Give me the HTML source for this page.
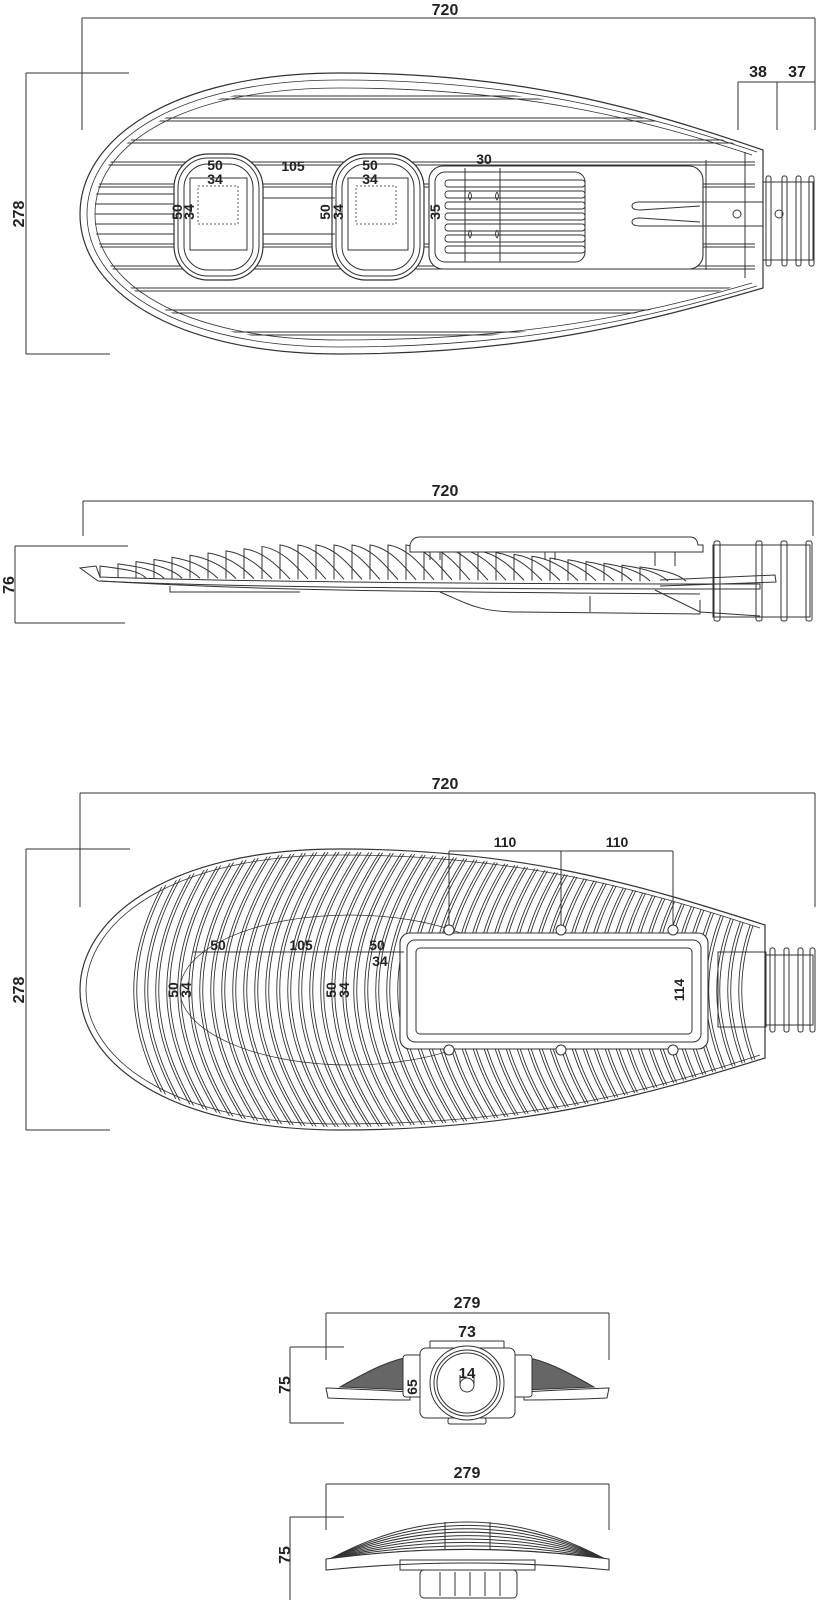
<!DOCTYPE html>
<html><head><meta charset="utf-8">
<style>
html,body{margin:0;padding:0;background:#fff;}
svg{display:block}
text{font-family:"Liberation Sans Narrow","Liberation Sans",sans-serif;font-weight:bold;font-size:16px;fill:#222;}
</style></head>
<body>
<svg id="s" width="821" height="1600" viewBox="0 0 821 1600" xmlns="http://www.w3.org/2000/svg">
<defs>
<clipPath id="c1"><path d="M755,150 C640,112 520,86 340,86 C180,86 94,140 94,214 C94,288 180,342 340,342 C520,342 640,318 755,280 Z"/></clipPath>
<clipPath id="c3"><path d="M760,928 C640,890 520,852 340,852 C170,852 82,920 82,990 C82,1060 170,1127 340,1127 C520,1127 640,1095 760,1058 Z"/></clipPath>
</defs>
<g fill="none" stroke="#333" stroke-width="1">
<line x1="82" y1="18" x2="815" y2="18"/>
<line x1="82" y1="18" x2="82" y2="130"/>
<line x1="815" y1="18" x2="815" y2="130"/>
<line x1="26" y1="73" x2="129" y2="73"/>
<line x1="26" y1="354" x2="110" y2="354"/>
<line x1="26" y1="73" x2="26" y2="354"/>
<line x1="738" y1="82" x2="815" y2="82"/>
<line x1="738" y1="82" x2="738" y2="130"/>
<line x1="777" y1="82" x2="777" y2="130"/>
<path d="M763,150 C640,108 520,73 340,73 C170,73 80,140 80,214 C80,288 170,354 340,354 C520,354 640,324 763,288 Z" stroke-width="1.2"/>
<path d="M757,152 C640,113 520,80 340,80 C175,80 87,143 87,214 C87,285 175,347 340,347 C520,347 640,320 757,286" stroke-width="0.8"/>
<path d="M752,155 C640,118 520,88 340,88 C180,88 95,146 95,214 C95,282 180,340 340,340 C520,340 640,316 752,283" stroke-width="0.8"/>
<g id="bars1" clip-path="url(#c1)" stroke-width="0.9"></g>
<rect x="263" y="198" width="72" height="36" fill="#fff"/>
<rect x="174" y="154" width="89" height="126" rx="34" fill="#fff" stroke-width="1.2"/>
<rect x="178" y="158" width="81" height="118" rx="30"/>
<rect x="184" y="164" width="69" height="106" rx="24"/>
<rect x="190" y="178" width="57" height="72" fill="#fff"/>
<rect x="332" y="154" width="92" height="126" rx="34" fill="#fff" stroke-width="1.2"/>
<rect x="336" y="158" width="84" height="118" rx="30"/>
<rect x="342" y="164" width="72" height="106" rx="24"/>
<rect x="348" y="178" width="60" height="72" fill="#fff"/>
<line x1="263" y1="198" x2="335" y2="198"/><line x1="263" y1="234" x2="335" y2="234"/>
<g stroke-dasharray="2,2" stroke-width="0.8"><rect x="198" y="186" width="40" height="38"/><rect x="356" y="186" width="40" height="38"/></g>
<rect x="429" y="166" width="274" height="103" rx="14" fill="#fff" stroke-width="1.1"/>
<rect x="435" y="172" width="150" height="90" rx="10"/>
<g id="drv" stroke-width="0.9"></g>
<line x1="465" y1="168" x2="465" y2="262"/><line x1="500" y1="168" x2="500" y2="262"/>
<path d="M640,202 L763,202 M640,226 L763,226 M640,202 q-8,0 -8,4 q0,4 8,4 L700,206 M640,226 q-8,0 -8,-4 q0,-4 8,-4 L700,222"/>
<line x1="706" y1="160" x2="706" y2="270"/><line x1="745" y1="152" x2="745" y2="278"/>
<circle cx="737" cy="214" r="4"/><circle cx="779" cy="214" r="4"/>
<rect x="763" y="182" width="50" height="78"/>
<rect x="766" y="176" width="5" height="90" rx="2"/><rect x="782" y="176" width="5" height="90" rx="2"/><rect x="796" y="176" width="5" height="90" rx="2"/><rect x="809" y="176" width="5" height="90" rx="2"/>

<line x1="83" y1="501" x2="813" y2="501"/>
<line x1="83" y1="501" x2="83" y2="536"/>
<line x1="813" y1="501" x2="813" y2="536"/>
<line x1="15" y1="546" x2="128" y2="546"/>
<line x1="15" y1="623" x2="125" y2="623"/>
<line x1="15" y1="546" x2="15" y2="623"/>
<g id="fins2" stroke-width="1"></g>
<path d="M80,568 L96,566 L100,577 C250,582 500,584 760,584 L760,589 C500,589 250,588 98,581 Z"/>
<path d="M100,581 C250,590 400,592 700,594"/>
<path d="M170,586 L170,592 L300,592"/>
<path d="M410,545 Q412,537 420,537 L690,537 Q697,537 698,545 L703,545 L703,552 L410,552 Z" fill="#fff"/>
<path d="M430,552 v8 M440,552 v8 M545,552 v8 M555,552 v8 M655,552 v14 M675,552 v14"/>
<path d="M440,592 C470,605 480,612 520,612 L700,614 L700,600 M590,596 L590,612"/>
<path d="M655,590 L700,612 L760,616"/>
<rect x="713" y="545" width="97" height="72"/>
<rect x="714" y="541" width="6" height="80" rx="2"/><rect x="756" y="541" width="6" height="80" rx="2"/><rect x="781" y="541" width="6" height="80" rx="2"/><rect x="806" y="541" width="6" height="80" rx="2"/>
<path d="M660,580 L775,575 L776,582 L660,586"/>

<line x1="80" y1="793" x2="815" y2="793"/>
<line x1="80" y1="793" x2="80" y2="907"/>
<line x1="815" y1="793" x2="815" y2="907"/>
<line x1="26" y1="849" x2="130" y2="849"/>
<line x1="26" y1="1130" x2="110" y2="1130"/>
<line x1="26" y1="849" x2="26" y2="1130"/>
<path d="M765,925 C640,885 520,849 340,849 C165,849 80,920 80,990 C80,1060 165,1130 340,1130 C520,1130 640,1097 765,1058 Z" stroke-width="1.2"/>
<path d="M760,928 C640,889 520,855 340,855 C170,855 86,922 86,990 C86,1058 170,1124 340,1124 C520,1124 640,1094 760,1055" stroke-width="0.8"/>
<g id="fins3" clip-path="url(#c3)" stroke-width="0.9"></g>
<ellipse cx="350" cy="990" rx="170" ry="75" stroke-width="0.7"/>
<rect x="400" y="933" width="308" height="116" rx="10" fill="#fff" stroke-width="1.1"/>
<rect x="407" y="940" width="294" height="102" rx="8"/>
<rect x="416" y="948" width="276" height="86" rx="4"/>
<g fill="#fff"><circle cx="449" cy="930" r="5"/><circle cx="561" cy="930" r="5"/><circle cx="673" cy="930" r="5"/><circle cx="449" cy="1050" r="5"/><circle cx="561" cy="1050" r="5"/><circle cx="673" cy="1050" r="5"/></g>
<line x1="449" y1="851" x2="673" y2="851"/>
<line x1="449" y1="851" x2="449" y2="925"/><line x1="561" y1="851" x2="561" y2="925"/><line x1="673" y1="851" x2="673" y2="925"/>
<line x1="193" y1="952" x2="404" y2="952"/>
<rect x="718" y="952" width="48" height="75"/>
<rect x="765" y="955" width="48" height="70"/>
<rect x="770" y="948" width="5" height="84" rx="2"/><rect x="784" y="948" width="5" height="84" rx="2"/><rect x="798" y="948" width="5" height="84" rx="2"/><rect x="810" y="948" width="5" height="84" rx="2"/>

<line x1="326" y1="1313" x2="609" y2="1313"/>
<line x1="326" y1="1313" x2="326" y2="1360"/>
<line x1="609" y1="1313" x2="609" y2="1360"/>
<line x1="290" y1="1347" x2="344" y2="1347"/>
<line x1="290" y1="1423" x2="344" y2="1423"/>
<line x1="290" y1="1347" x2="290" y2="1423"/>
<line x1="430" y1="1341" x2="504" y2="1341"/>
<line x1="430" y1="1341" x2="430" y2="1360"/><line x1="504" y1="1341" x2="504" y2="1360"/>
<path d="M340,1387 C370,1370 390,1360 410,1357 L410,1390 Z" fill="#666" stroke="#333"/>
<path d="M594,1387 C564,1370 544,1360 524,1357 L524,1390 Z" fill="#666" stroke="#333"/>
<path d="M326,1388 Q380,1390 410,1392 L410,1400 Q370,1400 328,1398 Z" fill="#fff"/>
<path d="M609,1388 Q555,1390 524,1392 L524,1400 Q565,1400 607,1398 Z" fill="#fff"/>
<rect x="403" y="1355" width="20" height="42" rx="3" fill="#fff"/>
<rect x="512" y="1355" width="20" height="42" rx="3" fill="#fff"/>
<rect x="420" y="1348" width="95" height="70" rx="6" fill="#fff"/>
<rect x="448" y="1418" width="38" height="6" rx="2"/>
<circle cx="467" cy="1383" r="37" fill="#fff"/>
<circle cx="467" cy="1383" r="33"/>
<circle cx="467" cy="1383" r="30"/>
<circle cx="467" cy="1385" r="7"/>
<line x1="460" y1="1375" x2="460" y2="1385"/><line x1="474" y1="1375" x2="474" y2="1385"/>

<line x1="326" y1="1484" x2="609" y2="1484"/>
<line x1="326" y1="1484" x2="326" y2="1530"/>
<line x1="609" y1="1484" x2="609" y2="1530"/>
<line x1="290" y1="1517" x2="344" y2="1517"/>
<line x1="290" y1="1517" x2="290" y2="1600"/>
<g id="dome"></g>
<path d="M326,1559 Q467,1540 609,1559 L609,1570 Q467,1556 326,1570 Z" fill="#fff" stroke-width="1.1"/>
<path d="M400,1560 L535,1560 L535,1570 L400,1570 Z"/>
<rect x="420" y="1570" width="97" height="28" rx="4"/>
<path d="M440,1572 v24 M455,1572 v24 M470,1572 v24 M485,1572 v24 M500,1572 v24"/>
</g>

<text x="445" y="15" text-anchor="middle">720</text>
<text x="758" y="77" text-anchor="middle">38</text>
<text x="797" y="77" text-anchor="middle">37</text>
<text transform="translate(24,214) rotate(-90)" text-anchor="middle">278</text>
<text x="215" y="170" text-anchor="middle" style="font-size:14px">50</text>
<text x="215" y="184" text-anchor="middle" style="font-size:14px">34</text>
<text x="293" y="171" text-anchor="middle" style="font-size:14px">105</text>
<text x="370" y="170" text-anchor="middle" style="font-size:14px">50</text>
<text x="370" y="184" text-anchor="middle" style="font-size:14px">34</text>
<text x="484" y="164" text-anchor="middle" style="font-size:14px">30</text>
<text transform="translate(182,212) rotate(-90)" text-anchor="middle" style="font-size:14px">50</text>
<text transform="translate(194,212) rotate(-90)" text-anchor="middle" style="font-size:14px">34</text>
<text transform="translate(330,212) rotate(-90)" text-anchor="middle" style="font-size:14px">50</text>
<text transform="translate(343,212) rotate(-90)" text-anchor="middle" style="font-size:14px">34</text>
<text transform="translate(440,212) rotate(-90)" text-anchor="middle" style="font-size:14px">35</text>
<text x="445" y="496" text-anchor="middle">720</text>
<text transform="translate(14,585) rotate(-90)" text-anchor="middle">76</text>
<text x="445" y="789" text-anchor="middle">720</text>
<text transform="translate(24,990) rotate(-90)" text-anchor="middle">278</text>
<text x="505" y="847" text-anchor="middle" style="font-size:14px">110</text>
<text x="617" y="847" text-anchor="middle" style="font-size:14px">110</text>
<text x="218" y="950" text-anchor="middle" style="font-size:14px">50</text>
<text x="301" y="950" text-anchor="middle" style="font-size:14px">105</text>
<text x="377" y="950" text-anchor="middle" style="font-size:14px">50</text>
<text x="380" y="966" text-anchor="middle" style="font-size:14px">34</text>
<text transform="translate(178,990) rotate(-90)" text-anchor="middle" style="font-size:14px">50</text>
<text transform="translate(191,990) rotate(-90)" text-anchor="middle" style="font-size:14px">34</text>
<text transform="translate(336,990) rotate(-90)" text-anchor="middle" style="font-size:14px">50</text>
<text transform="translate(349,990) rotate(-90)" text-anchor="middle" style="font-size:14px">34</text>
<text transform="translate(684,990) rotate(-90)" text-anchor="middle" style="font-size:14px">114</text>
<text x="467" y="1308" text-anchor="middle">279</text>
<text x="467" y="1337" text-anchor="middle">73</text>
<text x="467" y="1378" text-anchor="middle" style="font-size:15px">14</text>
<text transform="translate(417,1387) rotate(-90)" text-anchor="middle" style="font-size:14px">65</text>
<text transform="translate(290,1385) rotate(-90)" text-anchor="middle">75</text>
<text x="467" y="1478" text-anchor="middle">279</text>
<text transform="translate(290,1555) rotate(-90)" text-anchor="middle">75</text>
</svg>
<script>
(function(){
var NS="http://www.w3.org/2000/svg";
function add(g,tag,a){var e=document.createElementNS(NS,tag);for(var k in a)e.setAttribute(k,a[k]);document.getElementById(g).appendChild(e);return e;}
[-118,-96,-74,-52,-30,30,52,74,96,118].forEach(function(d){
  var y=214+d; add("bars1","line",{x1:80,y1:y,x2:760,y2:y}); add("bars1","line",{x1:80,y1:y+3,x2:760,y2:y+3});
});
[-10,0,10,20,-20].forEach(function(d){var y=214+d;add("bars1","line",{x1:95,y1:y,x2:175,y2:y});});
for(var i=0;i<7;i++){var y=180+i*11;add("drv","rect",{x:445,y:y,width:140,height:7,rx:3});}
add("drv","path",{d:"M470,192 q-3,4 0,8 q3,-4 0,-8 M497,192 q-3,4 0,8 q3,-4 0,-8 M470,230 q-3,4 0,8 q3,-4 0,-8 M497,230 q-3,4 0,8 q3,-4 0,-8"});
for(var x=100;x<=655;x+=18){
  var ft;
  if(x<280) ft=566-(x-100)*0.12; else if(x<420) ft=545; else ft=545+(x-420)*0.1;
  var base=578+(x-100)*0.006;
  add("fins2","path",{d:"M"+x+","+base+" L"+x+","+ft+" C"+(x+22)+","+(ft+3)+" "+(x+38)+","+(base-8)+" "+(x+46)+","+base});
}
for(var x=95;x<=700;x+=11){
  for(var o=0;o<2;o++){
    var xx=x+o*3;
    add("fins3","path",{d:"M"+(xx+95)+",840 C"+(xx+20)+",950 "+(xx+20)+",1030 "+(xx+95)+",1140"});
  }
}
for(var i=0;i<10;i++){
  var t=1521+i*3.5;
  add("dome","path",{d:"M330,1559 Q467,"+(t-(1559-t)*0.95)+" 605,1559"});
}
add("dome","path",{d:"M445,1522 L445,1550 M490,1522 L490,1550"});
})();
</script>
</body></html>
